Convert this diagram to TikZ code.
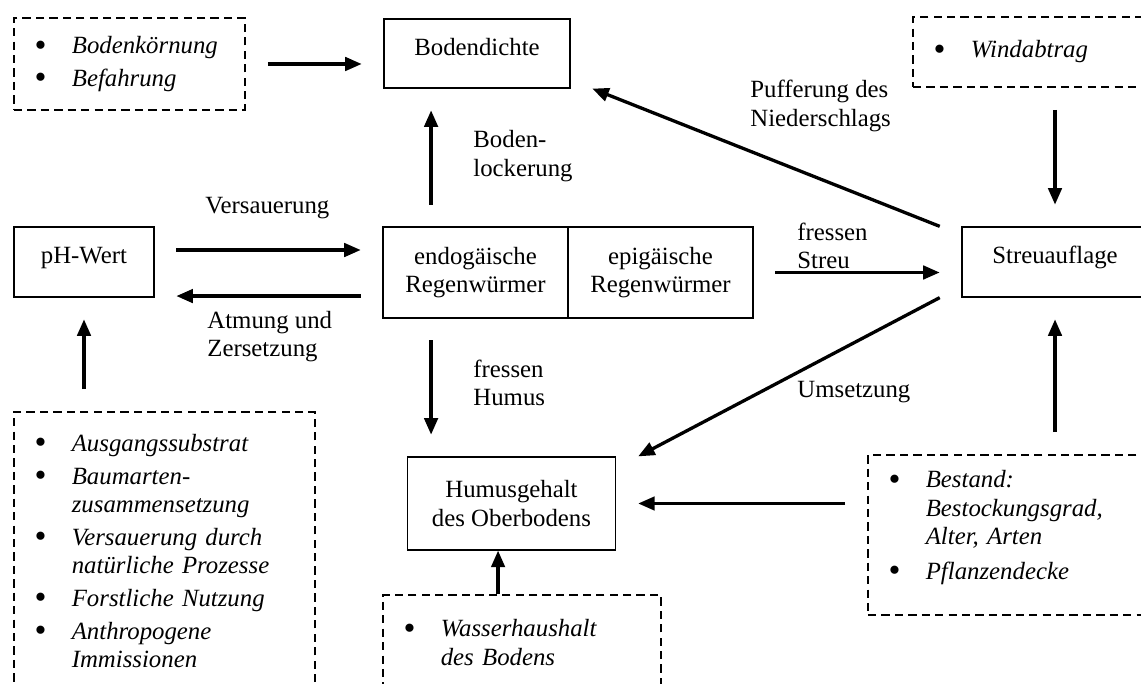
\documentclass[tikz,border=0pt]{standalone}
\usepackage{fontspec}
\setmainfont{Liberation Serif}
\usetikzlibrary{arrows.meta}

\hyphenpenalty=10000
\exhyphenpenalty=10000

% list entries inside the dashed boxes
\newcommand{\punkt}[1]{\makebox[18pt][l]{\raisebox{-1.2pt}{\fontsize{16.5}{16.5}\selectfont\textbullet}}\textit{#1}}
\newcommand{\weiter}[1]{\hspace*{18pt}\textit{#1}}

\begin{document}
\begin{tikzpicture}[x=0.484pt,y=-0.484pt,
	font=\fontsize{12}{13.8}\selectfont,
	kasten/.style={draw,line width=0.6pt,align=center,inner sep=2pt},
	einzeln/.style={text height=8.5pt,text depth=7pt},
	faktor/.style={draw,line width=1.2pt,dash pattern=on 4pt off 2.5pt,align=left,inner xsep=10pt,inner ysep=2pt},
	pfeil/.style={line width=1.6pt,-{Triangle[length=8pt,width=6.5pt]},shorten <=10.5pt,shorten >=10.5pt},
	beschr/.style={align=left,anchor=west,inner sep=0pt}]
		\useasboundingbox (0,0) rectangle (1141,684);
		
		% Boxes
		\node[kasten,einzeln,minimum width=90pt,minimum height=33.4pt] (boden) at (477,53.5) {Bodendichte};
		\node[kasten,einzeln,minimum width=67.8pt,minimum height=33.9pt] (ph) at (84,262) {pH-Wert};
		\node[kasten,minimum width=89.5pt,minimum height=44pt] (endo) at (475.5,272.5) {endogäische\\Regenwürmer};
		\node[kasten,minimum width=89.5pt,minimum height=44pt] (epi) at (660.5,272.5) {epigäische\\Regenwürmer};
		\node[kasten,einzeln,minimum width=90pt,minimum height=33.9pt] (streu) at (1055,262) {Streuauflage};
		\node[kasten,minimum width=101pt,minimum height=45pt] (humus) at (511.5,503.5) {Humusgehalt\\des Oberbodens};
		
		% Dashed boxes
		\node[faktor,text width=91.8pt,minimum height=44.5pt] (fakBoden) at (129.5,64)
			{\punkt{Bodenkörnung}\\[2pt]\punkt{Befahrung}};
		\node[faktor,text width=100pt,minimum height=33.9pt] (fakWind) at (1037,52)
			{\punkt{Windabtrag}};
		\node[faktor,text width=125.7pt,minimum height=134.6pt] (fakPh) at (164.5,551)
			{\punkt{Ausgangssubstrat}\\[2pt]\punkt{Baumarten-}\\\weiter{zusammensetzung}\\[2pt]%
			\punkt{Versauerung durch}\\\weiter{natürliche Prozesse}\\[2pt]%
			\punkt{Forstliche Nutzung}\\[2pt]\punkt{Anthropogene}\\\weiter{Immissionen}};
		\node[faktor,text width=114.6pt,minimum height=46pt] (fakWasser) at (522,642.5)
			{\punkt{Wasserhaushalt}\\\weiter{des Bodens}};
		\node[faktor,text width=120pt,minimum height=77.4pt] (fakBestand) at (1012.6,535)
			{\punkt{Bestand:}\\\weiter{Bestockungsgrad,}\\\weiter{Alter, Arten}\\[3pt]\punkt{Pflanzendecke}\\[-4pt]\mbox{}};
		
		% Arrows
		\draw[pfeil] (fakBoden.east) -- (fakBoden.east -| boden.west);
		\draw[pfeil] ([yshift=5.8pt]ph.east) -- ([yshift=5.8pt]ph.east -| endo.west);
		\draw[pfeil] ([yshift=-11.4pt]endo.west) -- ([yshift=-11.4pt]endo.west -| ph.east);
		\draw[pfeil] ([xshift=-21.5pt]endo.north) -- ([xshift=-21.5pt]endo.north |- boden.south);
		\draw[pfeil] ([xshift=-21.5pt]endo.south) -- ([xshift=-21.5pt]endo.south |- humus.north);
		\draw[pfeil] (epi.east) -- (epi.east -| streu.west);
		\draw[pfeil,shorten <=0pt,shorten >=0pt] ([xshift=-10.5pt]streu.north west) -- ([xshift=10.5pt]boden.south east);
		\draw[pfeil,shorten <=0pt,shorten >=0pt] ([xshift=-10.5pt]streu.south west) -- ([xshift=10.5pt]humus.north east);
		\draw[pfeil] (streu.north |- fakWind.south) -- (streu.north);
		\draw[pfeil] (streu.south |- fakBestand.north) -- (streu.south);
		\draw[pfeil] (fakBestand.west |- humus.east) -- (humus.east);
		\draw[pfeil,shorten <=0pt,shorten >=0pt] ([xshift=-6.5pt]humus.south |- fakWasser.north) -- ([xshift=-6.5pt]humus.south);
		\draw[pfeil] (ph.south |- fakPh.north) -- (ph.south);
		
		% Labels
		\node[beschr] (lVers) at (205,208) {Versauerung};
		\node[beschr] (lAtmung) at (207,336.5) {Atmung und\\Zersetzung};
		\node[beschr] (lLocker) at (473,156) {Boden-\\lockerung};
		\node[beschr] (lPuffer) at (750,106) {Pufferung des\\Niederschlags};
		\node[beschr] (lStreu) at (797,246) {fressen\\Streu};
		\node[beschr] (lHumus) at (473,383) {fressen\\Humus};
		\node[beschr] (lUms) at (797,392) {Umsetzung};
	\end{tikzpicture}
\end{document}
